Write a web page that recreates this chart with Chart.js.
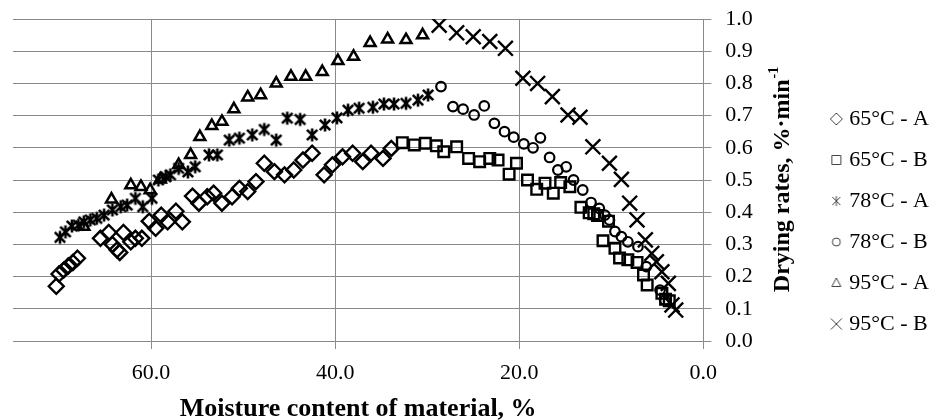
<!DOCTYPE html>
<html>
<head>
<meta charset="utf-8">
<title>Drying rates</title>
<script src="https://cdn.jsdelivr.net/npm/chart.js@4.4.1/dist/chart.umd.min.js"></script>
<style>
  html, body { margin: 0; padding: 0; background: #fff; }
  #wrap { width: 944px; height: 420px; }
</style>
</head>
<body>
<div id="wrap"><canvas id="drying-chart" width="944" height="420"></canvas></div>
<script>
(function () {
    "use strict";

    // moisture content (%) and drying rate (%/min)
    const moisture65A = [70.3, 70.0, 69.5, 69.0, 68.5, 68.0, 65.5, 64.6, 64.2, 63.7, 63.4, 63.0, 62.2, 61.7, 61.0, 60.2, 59.5, 58.9, 58.2, 57.3, 56.6, 55.5, 54.8, 53.9, 53.2, 52.3, 51.2, 50.4, 49.5, 48.6, 47.7, 46.6, 45.5, 44.5, 43.5, 42.5, 41.2, 40.3, 39.2, 38.1, 37.0, 36.1, 34.8, 33.9];
    const rate65A = [0.170, 0.208, 0.220, 0.233, 0.244, 0.257, 0.319, 0.337, 0.300, 0.283, 0.275, 0.337, 0.308, 0.319, 0.319, 0.372, 0.350, 0.391, 0.370, 0.403, 0.370, 0.450, 0.428, 0.448, 0.459, 0.428, 0.448, 0.474, 0.464, 0.495, 0.552, 0.526, 0.516, 0.531, 0.562, 0.583, 0.516, 0.547, 0.572, 0.583, 0.557, 0.583, 0.567, 0.598];

    const moisture65B = [32.7, 31.4, 30.2, 29.0, 28.2, 26.8, 25.5, 24.3, 23.2, 22.3, 21.1, 20.3, 19.1, 18.1, 17.2, 16.3, 15.5, 14.5, 13.3, 12.4, 11.9, 11.5, 10.3, 10.9, 9.6, 9.1, 8.2, 7.2, 6.5, 6.1, 4.5, 4.1, 3.7];
    const rate65B = [0.616, 0.609, 0.614, 0.606, 0.588, 0.603, 0.567, 0.557, 0.567, 0.562, 0.518, 0.552, 0.500, 0.471, 0.490, 0.459, 0.492, 0.479, 0.415, 0.398, 0.395, 0.390, 0.372, 0.311, 0.288, 0.258, 0.252, 0.244, 0.205, 0.174, 0.148, 0.130, 0.125];

    const moisture78A = [69.9, 69.3, 68.6, 67.9, 67.3, 66.6, 65.9, 65.1, 64.2, 63.3, 62.6, 61.7, 60.9, 59.9, 59.2, 58.4, 57.9, 57.0, 56.0, 55.2, 53.7, 52.8, 51.5, 50.4, 49.0, 47.7, 46.4, 45.2, 43.8, 42.5, 41.1, 39.8, 38.6, 37.4, 35.9, 34.7, 33.6, 32.3, 31.0, 29.9];
    const rate78A = [0.322, 0.339, 0.357, 0.360, 0.370, 0.376, 0.381, 0.391, 0.407, 0.417, 0.422, 0.443, 0.417, 0.443, 0.500, 0.510, 0.516, 0.536, 0.525, 0.541, 0.578, 0.578, 0.624, 0.630, 0.640, 0.657, 0.624, 0.692, 0.688, 0.640, 0.671, 0.693, 0.717, 0.723, 0.726, 0.736, 0.736, 0.738, 0.748, 0.764];

    const moisture78B = [28.5, 27.2, 26.1, 24.9, 23.8, 22.7, 21.6, 20.6, 19.5, 18.5, 17.7, 16.7, 15.8, 14.9, 14.1, 13.1, 12.2, 11.3, 10.7, 10.2, 9.6, 8.9, 8.2, 7.1, 6.2, 4.7, 4.2];
    const rate78B = [0.790, 0.728, 0.720, 0.702, 0.730, 0.676, 0.650, 0.633, 0.612, 0.600, 0.631, 0.570, 0.531, 0.541, 0.500, 0.469, 0.430, 0.412, 0.391, 0.376, 0.340, 0.324, 0.308, 0.293, 0.231, 0.158, 0.127];

    const moisture95A = [67.3, 64.3, 62.2, 61.1, 60.1, 59.0, 57.0, 55.7, 54.7, 53.4, 52.3, 51.0, 49.5, 48.1, 46.4, 44.8, 43.2, 41.4, 39.7, 38.0, 36.2, 34.3, 32.3, 30.5];
    const rate95A = [0.355, 0.440, 0.484, 0.479, 0.469, 0.502, 0.547, 0.578, 0.634, 0.668, 0.681, 0.720, 0.757, 0.764, 0.800, 0.821, 0.821, 0.836, 0.870, 0.883, 0.926, 0.937, 0.935, 0.950];

    const moisture95B = [28.7, 26.8, 25.0, 23.2, 21.5, 19.6, 18.0, 16.4, 14.7, 13.4, 12.0, 10.2, 8.9, 8.0, 7.2, 6.3, 5.6, 5.1, 4.5, 3.8, 3.4, 3.0];
    const rate95B = [0.981, 0.957, 0.945, 0.930, 0.909, 0.816, 0.800, 0.759, 0.702, 0.695, 0.603, 0.552, 0.502, 0.428, 0.376, 0.314, 0.272, 0.246, 0.215, 0.179, 0.112, 0.096];

    const seriesNames = ["65°C - A", "65°C - B", "78°C - A", "78°C - B", "95°C - A", "95°C - B"];
    const xTitle = "Moisture content of material, %";
    const yTitleMain = "Drying rates, %·min";
    const yTitleSup = "-1";

    const FONT = "'Liberation Serif', 'Times New Roman', serif";
    const gridColor = "#8a8a8a";

    function toPoints(xs, ys) {
        return xs.map((x, i) => ({ x: x, y: ys[i] }));
    }

    // asterisk marker: X with a vertical bar
    function makeStar(size, lineWidth, color) {
        var c = document.createElement("canvas");
        c.width = size;
        c.height = size;
        var g = c.getContext("2d");
        var m = size / 2, r = size / 2 - 1.5, d = r * 0.8;
        g.strokeStyle = color;
        g.lineWidth = lineWidth;
        g.beginPath();
        g.moveTo(m - d, m - d); g.lineTo(m + d, m + d);
        g.moveTo(m + d, m - d); g.lineTo(m - d, m + d);
        g.moveTo(m, m - r); g.lineTo(m, m + r);
        g.stroke();
        return c;
    }

    // small grey legend icons
    function legendIcon(shape) {
        var s = 16, c = document.createElement("canvas");
        c.width = s;
        c.height = s;
        var g = c.getContext("2d");
        var m = s / 2;
        g.strokeStyle = "#444";
        g.lineWidth = 1;
        g.beginPath();
        if (shape === "diamond") {
            g.moveTo(m, m - 6); g.lineTo(m + 6, m); g.lineTo(m, m + 6); g.lineTo(m - 6, m); g.closePath();
        } else if (shape === "square") {
            g.rect(m - 4.5, m - 4.5, 9, 9);
        } else if (shape === "star") {
            g.moveTo(m - 4, m - 4); g.lineTo(m + 4, m + 4);
            g.moveTo(m + 4, m - 4); g.lineTo(m - 4, m + 4);
            g.moveTo(m, m - 5); g.lineTo(m, m + 5);
        } else if (shape === "circle") {
            g.arc(m, m, 4, 0, Math.PI * 2);
        } else if (shape === "triangle") {
            g.moveTo(m, m - 5); g.lineTo(m + 4.5, m + 3.5); g.lineTo(m - 4.5, m + 3.5); g.closePath();
        } else {
            g.moveTo(m - 5.5, m - 5.5); g.lineTo(m + 5.5, m + 5.5);
            g.moveTo(m + 5.5, m - 5.5); g.lineTo(m - 5.5, m + 5.5);
        }
        g.stroke();
        return c;
    }

    const starMarker = makeStar(16, 2.6, "#000");
    const legendIcons = ["diamond", "square", "star", "circle", "triangle", "cross"].map(legendIcon);

    function series(i, xs, ys, style, radius, width) {
        return {
            label: seriesNames[i],
            data: toPoints(xs, ys),
            pointStyle: style,
            pointRadius: radius,
            pointBorderWidth: width,
            pointBorderColor: "#000",
            pointBackgroundColor: "rgba(0,0,0,0)",
            borderColor: "#000",
            backgroundColor: "rgba(0,0,0,0)",
            showLine: false
        };
    }

    const yTitlePlugin = {
        id: "yTitle",
        afterDraw(chart) {
            const ctx = chart.ctx;
            const area = chart.chartArea;
            const cx = chart.scales.y.left + 79;
            const cy = (area.top + area.bottom) / 2;
            const mainFont = "bold 24px " + FONT;
            const supFont = "bold 14px " + FONT;
            ctx.save();
            ctx.font = mainFont;
            const w1 = ctx.measureText(yTitleMain).width;
            ctx.font = supFont;
            const w2 = ctx.measureText(yTitleSup).width;
            ctx.translate(cx, cy);
            ctx.rotate(-Math.PI / 2);
            ctx.fillStyle = "#000";
            ctx.textAlign = "left";
            ctx.textBaseline = "middle";
            const start = -(w1 + w2) / 2;
            ctx.font = mainFont;
            ctx.fillText(yTitleMain, start, 0);
            ctx.font = supFont;
            ctx.fillText(yTitleSup, start + w1 + 1, -8);
            ctx.restore();
        }
    };

    var ctx = document.getElementById("drying-chart").getContext("2d");
    var dryingChart = new Chart(ctx, {
        type: "scatter",
        data: {
            datasets: [
                series(0, moisture65A, rate65A, "rectRot", 7.5, 2.4),
                series(1, moisture65B, rate65B, "rect", 7.5, 2.4),
                series(2, moisture78A, rate78A, starMarker, 8, 2.4),
                series(3, moisture78B, rate78B, "circle", 4.8, 2.2),
                series(4, moisture95A, rate95A, "triangle", 6.3, 2.5),
                series(5, moisture95B, rate95B, "crossRot", 10.5, 2.4)
            ]
        },
        options: {
            responsive: false,
            animation: false,
            events: [],
            layout: { padding: { left: 13, top: 19, right: 5, bottom: 0 } },
            scales: {
                x: {
                    type: "linear",
                    reverse: true,
                    min: 0,
                    max: 75,
                    afterBuildTicks: function (scale) {
                        scale.ticks = scale.ticks.filter(t => t.value % 20 === 0);
                    },
                    afterFit: function (scale) { scale.height = 79; },
                    ticks: {
                        stepSize: 20,
                        padding: 11,
                        color: "#000",
                        font: { family: FONT, size: 22 },
                        callback: v => Number(v).toFixed(1)
                    },
                    grid: { color: gridColor, lineWidth: 1, tickLength: 8 },
                    border: { color: gridColor },
                    title: {
                        display: true,
                        text: xTitle,
                        color: "#000",
                        font: { family: FONT, size: 26, weight: "bold", lineHeight: 1 },
                        padding: { top: 0, bottom: -2 }
                    }
                },
                y: {
                    position: "right",
                    min: 0,
                    max: 1,
                    afterFit: function (scale) {
                        scale.width = 112;
                        scale.paddingTop = 0;
                        scale.paddingBottom = 0;
                    },
                    ticks: {
                        stepSize: 0.1,
                        padding: 14,
                        color: "#000",
                        font: { family: FONT, size: 22 },
                        callback: v => Number(v).toFixed(1)
                    },
                    grid: { color: gridColor, lineWidth: 1, tickLength: 8 },
                    border: { color: gridColor }
                }
            },
            plugins: {
                tooltip: { enabled: false },
                legend: {
                    position: "right",
                    title: {
                        display: true,
                        text: "",
                        font: { family: FONT, size: 4, lineHeight: 1 },
                        padding: 0
                    },
                    labels: {
                        usePointStyle: true,
                        boxWidth: 4,
                        boxHeight: 9,
                        padding: 19,
                        color: "#000",
                        font: { family: FONT, size: 22 },
                        generateLabels: function (chart) {
                            var items = Chart.defaults.plugins.legend.labels.generateLabels(chart);
                            items.forEach(function (item, i) {
                                item.pointStyle = legendIcons[i];
                                item.lineWidth = 1;
                            });
                            return items;
                        }
                    }
                }
            }
        },
        plugins: [yTitlePlugin]
    });
})();
</script>
</body>
</html>
